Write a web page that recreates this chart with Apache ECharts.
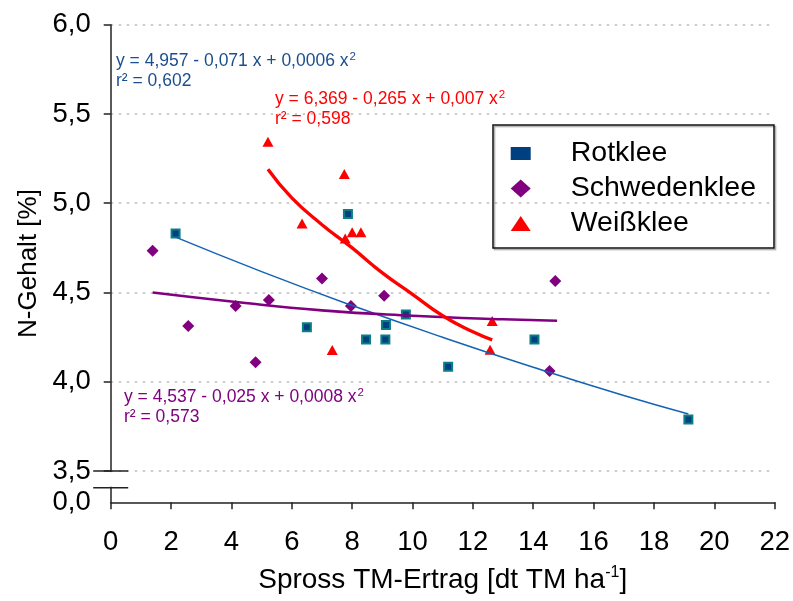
<!DOCTYPE html>
<html>
<head>
<meta charset="utf-8">
<script src="https://cdn.jsdelivr.net/npm/echarts@6/dist/echarts.min.js"></script>
<style>html,body{margin:0;padding:0;background:#fff;}#c{width:793px;height:601px;}</style>
</head>
<body>
<div id="c"></div>
<script>
// ---- data ----
const rotX = [2.15, 6.50, 7.86, 8.46, 9.10, 9.12, 9.78, 11.18, 14.04, 19.14];
const rotY = [4.830, 4.305, 4.940, 4.237, 4.237, 4.318, 4.377, 4.084, 4.237, 3.789];
const schX = [1.39, 2.57, 4.14, 4.80, 5.24, 7.00, 7.96, 9.06, 14.54, 14.73];
const schY = [4.734, 4.312, 4.424, 4.109, 4.458, 4.579, 4.424, 4.482, 4.060, 4.564];
const weiX = [5.21, 6.34, 7.34, 7.74, 7.77, 8.00, 8.29, 12.57, 12.64];
const weiY = [5.345, 4.887, 4.178, 5.164, 4.803, 4.837, 4.837, 4.180, 4.340];
// fitted curves
const rotFitX = [2.15, 5, 8, 11, 14, 17, 19.14];
const rotFitY = [4.810, 4.617, 4.427, 4.249, 4.081, 3.923, 3.820];
const schFitX = [1.39, 4, 7, 10, 13, 14.79];
const schFitY = [4.500, 4.450, 4.400, 4.370, 4.350, 4.342];
const weiFitX = [5.21, 6, 7, 8, 9, 10, 11, 12, 12.64];
const weiFitY = [5.190, 5.030, 4.880, 4.750, 4.610, 4.490, 4.370, 4.280, 4.235];
const seriesNames = ['Rotklee', 'Schwedenklee', 'Weißklee'];
const xTicks = [0, 22, 2];
const yBreakLow = 3.325;      // position where "0,0" is drawn
const yTickValues = [3.5, 4.0, 4.5, 5.0, 5.5, 6.0];
const yTickLabels = ['3,5', '4,0', '4,5', '5,0', '5,5', '6,0'];
const yZeroLabel = '0,0';
const eqRot = ['y = 4,957 - 0,071 x + 0,0006 x', 'r² = 0,602'];
const eqWei = ['y = 6,369 - 0,265 x + 0,007 x', 'r² = 0,598'];
const eqSch = ['y = 4,537 - 0,025 x + 0,0008 x', 'r² = 0,573'];

const zip = (a, b) => a.map((v, i) => [v, b[i]]);
const FF = '"Liberation Sans", Arial, Helvetica, sans-serif';
const colRot = '#004080', colRotB = '#0a7f86', colSch = '#800080', colWei = '#ff0000';
const colRotLine = '#1462b4', colRotText = '#1a4f8f';

const chart = echarts.init(document.getElementById('c'), null, {renderer: 'canvas'});

function legendFor(name, top, h) {
  return {
    show: true, orient: 'vertical', left: 510.7, top: top, padding: 0,
    itemWidth: 20, itemHeight: h, selectedMode: false,
    textStyle: {fontSize: 28.5, fontFamily: FF, color: '#000', padding: [0, 0, 0, 35]},
    data: [{name: name, itemStyle: {borderWidth: 0}}]
  };
}

const option = {
  animation: false,
  backgroundColor: '#fff',
  textStyle: {fontFamily: FF},
  grid: {left: 110.7, right: 16.6, top: 24.7, bottom: 98.7, containLabel: false},
  legend: [
    legendFor(seriesNames[0], 139, 13),
    legendFor(seriesNames[1], 174, 18),
    legendFor(seriesNames[2], 209, 15)
  ],
  xAxis: {
    type: 'value', min: xTicks[0], max: xTicks[1], interval: xTicks[2],
    axisLine: {show: true, lineStyle: {color: '#222', width: 1.5}},
    axisTick: {show: true, inside: false, length: 7, lineStyle: {color: '#222', width: 1.5}},
    axisLabel: {fontSize: 27.5, color: '#000', margin: 26, fontFamily: FF},
    splitLine: {show: false},
    name: '{t|Spross TM-Ertrag [dt TM ha}{s|-1}{t|]}',
    nameLocation: 'middle', nameGap: 62,
    nameTextStyle: {
      rich: {
        t: {fontSize: 28, color: '#000', fontFamily: FF, lineHeight: 32},
        s: {fontSize: 16, color: '#000', fontFamily: FF, verticalAlign: 'top', lineHeight: 32, padding: [0, 0, 15, 0]}
      }
    }
  },
  yAxis: {
    type: 'value', min: yBreakLow, max: 6.0,
    axisLine: {show: true, lineStyle: {color: '#222', width: 1.5}},
    axisTick: {show: true, inside: false, length: 7, customValues: yTickValues, lineStyle: {color: '#222', width: 1.5}},
    axisLabel: {
      fontSize: 27.5, color: '#000', margin: 20, fontFamily: FF,
      customValues: [yBreakLow].concat(yTickValues),
      formatter: function (v) {
        if (Math.abs(v - yBreakLow) < 1e-6) return yZeroLabel;
        const i = yTickValues.findIndex(t => Math.abs(t - v) < 1e-6);
        return i >= 0 ? yTickLabels[i] : '';
      }
    },
    splitLine: {show: true, lineStyle: {color: '#bdbdbd', width: 1.5, type: [2.5, 5.5]}},
    name: 'N-Gehalt [%]', nameLocation: 'middle', nameGap: 66,
    nameTextStyle: {fontSize: 26, color: '#000', fontFamily: FF}
  },
  series: [
    {name: seriesNames[0], type: 'scatter', symbol: 'rect', symbolSize: 8, z: 3,
     itemStyle: {color: colRot, borderColor: colRotB, borderWidth: 2, opacity: 1},
     data: zip(rotX, rotY)},
    {name: seriesNames[1], type: 'scatter', symbol: 'diamond', symbolSize: 12, z: 3,
     itemStyle: {color: colSch, opacity: 1}, data: zip(schX, schY)},
    {name: seriesNames[2], type: 'scatter', symbol: 'triangle', symbolSize: [11, 10], z: 3,
     itemStyle: {color: colWei, opacity: 1}, data: zip(weiX, weiY)},
    {name: 'fitRot', type: 'line', showSymbol: false, smooth: true, z: 4, silent: true,
     lineStyle: {color: colRotLine, width: 1.5}, data: zip(rotFitX, rotFitY)},
    {name: 'fitSch', type: 'line', showSymbol: false, smooth: true, z: 4, silent: true,
     lineStyle: {color: colSch, width: 2.6}, data: zip(schFitX, schFitY)},
    {name: 'fitWei', type: 'line', showSymbol: false, smooth: true, z: 4, silent: true,
     lineStyle: {color: colWei, width: 3.3}, data: zip(weiFitX, weiFitY)}
  ]
};
chart.setOption(option);

// annotations, legend frame and axis break
function eqText(lines, left, top, color) {
  return {
    type: 'text', left: left, top: top, z: 10,
    style: {
      text: '{a|' + lines[0] + '}{s|2}\n{a|' + lines[1] + '}',
      rich: {
        a: {fontSize: 17.5, fill: color, fontFamily: FF, lineHeight: 20},
        s: {fontSize: 11.5, fill: color, fontFamily: FF, lineHeight: 20, verticalAlign: 'top', padding: [0, 0, 9, 1]}
      }
    }
  };
}
const x0 = chart.convertToPixel({xAxisIndex: 0}, 0);
const p35 = chart.convertToPixel({yAxisIndex: 0}, yTickValues[0]);
const pLow = chart.convertToPixel({yAxisIndex: 0}, yBreakLow);
const p2 = p35 + (pLow - p35) * 0.534;
chart.setOption({
  graphic: [
    {type: 'rect', z: 20, shape: {x: 493, y: 125, width: 281, height: 123},
     style: {fill: 'rgba(0,0,0,0)', stroke: '#111', lineWidth: 1.5, shadowColor: 'rgba(0,0,0,0.35)', shadowOffsetX: 1.5, shadowOffsetY: 1.5, shadowBlur: 1}},
    {type: 'rect', z: 30, shape: {x: x0 - 2, y: p35 + 1, width: 4, height: p2 - p35 - 2}, style: {fill: '#fff'}},
    {type: 'line', z: 31, shape: {x1: x0 - 17.5, y1: p35, x2: x0 + 17.5, y2: p35}, style: {stroke: '#222', lineWidth: 1.5}},
    {type: 'line', z: 31, shape: {x1: x0 - 17.5, y1: p2, x2: x0 + 17.5, y2: p2}, style: {stroke: '#222', lineWidth: 1.5}},
    eqText(eqRot, 116, 51, colRotText),
    eqText(eqWei, 275, 89, colWei),
    eqText(eqSch, 124, 387, colSch)
  ]
});
</script>
</body>
</html>
